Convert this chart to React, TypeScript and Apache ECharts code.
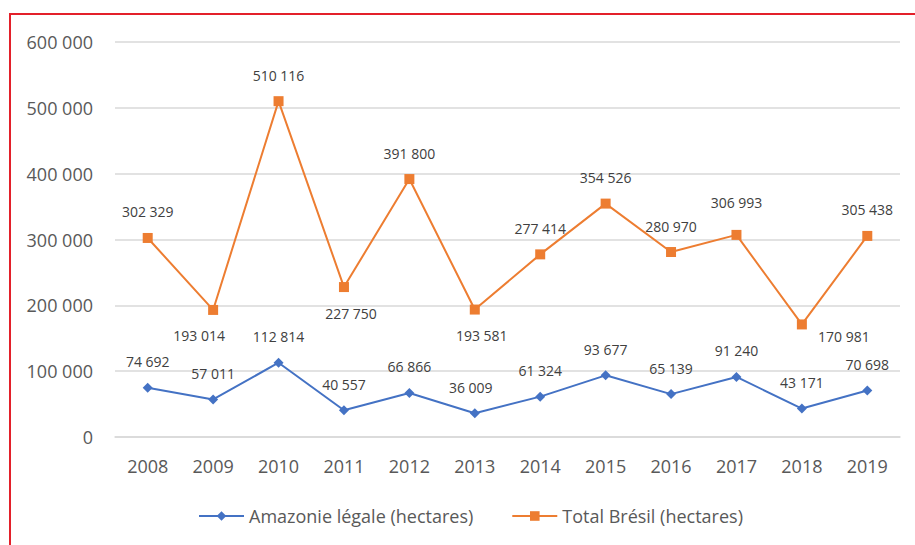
import React, { useEffect, useRef } from "react";
import * as echarts from "echarts";

const years = ["2008", "2009", "2010", "2011", "2012", "2013", "2014", "2015", "2016", "2017", "2018", "2019"];
const amazonie = [74692, 57011, 112814, 40557, 66866, 36009, 61324, 93677, 65139, 91240, 43171, 70698];
const totalBresil = [302329, 193014, 510116, 227750, 391800, 193581, 277414, 354526, 280970, 306993, 170981, 305438];
const seriesNames = ["Amazonie légale (hectares)", "Total Brésil (hectares)"];

// label placement (style only)
const orangePos = ["top", "bottom", "top", "bottom", "top", "bottom", "top", "top", "top", "top", "bottom", "top"];
const orangeOff: [number, number][] = [[0, 0], [-14, 0], [0, 0], [7, 0], [0, 0], [7, 0], [0, 0], [0, 0], [0, 0], [0, -6], [42, -14], [0, 0]];
const blueOff: [number, number][] = [[0, 0], [0, 0], [0, 0], [0, 0], [0, 0], [-4, 0], [0, 0], [0, 0], [0, 0], [0, 0], [0, 0], [0, 0]];

const FONT = '"Open Sans", "Liberation Sans", sans-serif';
const fmt = (v: number) => String(v).replace(/\B(?=(\d{3})+(?!\d))/g, " ");

export default function App() {
  const ref = useRef<HTMLDivElement>(null);
  useEffect(() => {
    if (!ref.current) return;
    const chart = echarts.init(ref.current, null, { renderer: "svg" });
    const labelBase = {
      show: true,
      fontFamily: FONT,
      fontSize: 14,
      color: "#404040",
      distance: 14,
      formatter: (p: any) => fmt(p.value),
    };
    chart.setOption({
      animation: false,
      backgroundColor: "#ffffff",
      textStyle: { fontFamily: FONT },
      graphic: [
        {
          type: "rect",
          shape: { x: 10, y: 14, width: 930, height: 560 },
          style: { fill: "none", stroke: "#e3202a", lineWidth: 2 },
          z: 100,
        },
      ],
      grid: { left: 115, right: 15, top: 42, bottom: 108, containLabel: false },
      legend: {
        left: 193,
        top: 502,
        itemWidth: 45,
        itemHeight: 12,
        itemGap: 38,
        textStyle: { fontFamily: FONT, fontSize: 18, color: "#595959" },
        data: seriesNames,
      },
      xAxis: {
        type: "category",
        data: years,
        boundaryGap: true,
        axisLine: { show: true, lineStyle: { color: "#d9d9d9", width: 1.5 } },
        axisTick: { show: false },
        axisLabel: { fontFamily: FONT, fontSize: 18, color: "#595959", margin: 20 },
      },
      yAxis: {
        type: "value",
        min: 0,
        max: 600000,
        interval: 100000,
        axisLine: { show: false },
        axisTick: { show: false },
        axisLabel: { fontFamily: FONT, fontSize: 18, color: "#595959", margin: 22, formatter: (v: number) => fmt(v) },
        splitLine: { lineStyle: { color: "#d9d9d9", width: 1.5 } },
      },
      series: [
        {
          name: seriesNames[0],
          type: "line",
          data: amazonie.map((v, i) => ({ value: v, label: { position: "top", offset: blueOff[i] } })),
          symbol: "diamond",
          symbolSize: 10,
          itemStyle: { color: "#4472c4" },
          lineStyle: { color: "#4472c4", width: 2 },
          label: { ...labelBase },
          z: 3,
        },
        {
          name: seriesNames[1],
          type: "line",
          data: totalBresil.map((v, i) => ({ value: v, label: { position: orangePos[i], offset: orangeOff[i] } })),
          symbol: "rect",
          symbolSize: 10,
          itemStyle: { color: "#ed7d31" },
          lineStyle: { color: "#ed7d31", width: 2 },
          label: { ...labelBase },
          z: 2,
        },
      ],
    });
    return () => chart.dispose();
  }, []);
  return (
    <div
      ref={ref}
      style={{ position: "fixed", left: 0, top: 0, width: 915, height: 545, background: "#fff" }}
    />
  );
}
